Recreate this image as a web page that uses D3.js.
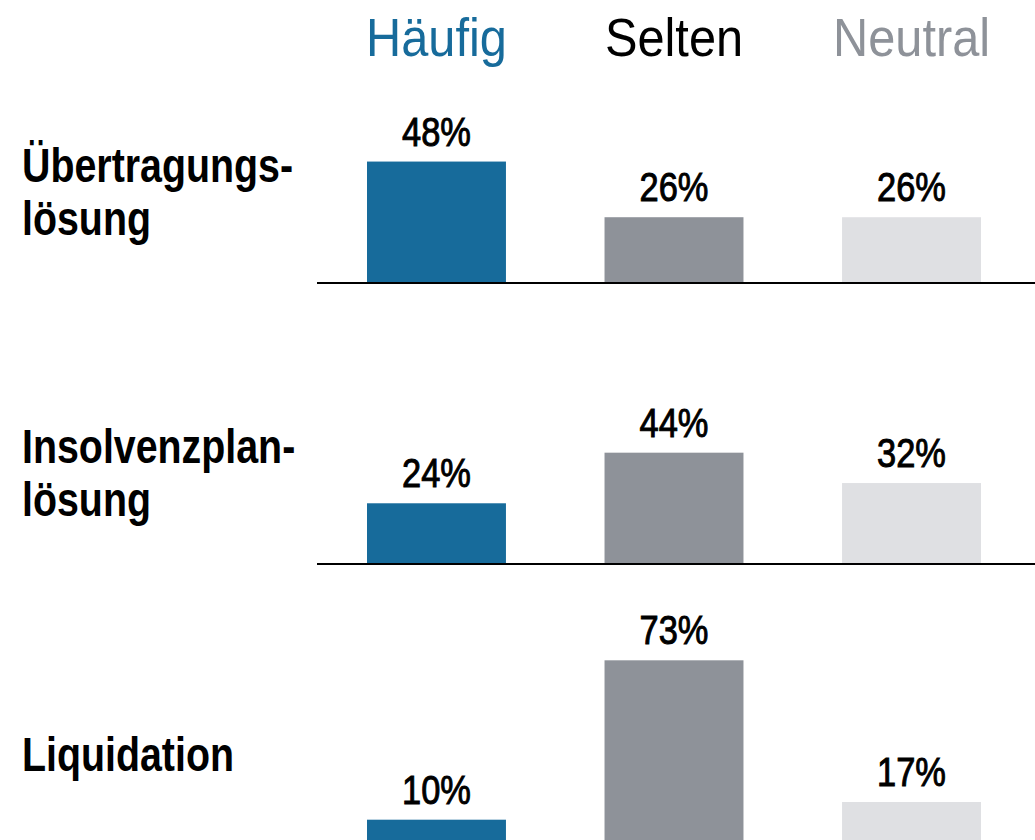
<!DOCTYPE html>
<html>
<head>
<meta charset="utf-8">
<script src="https://d3js.org/d3.v7.min.js"></script>
<style>
  body { margin: 0; background: #fff; }
  text { font-family: "Liberation Sans Narrow", "Arial Narrow", "Liberation Sans", sans-serif; }
  .head { font-size: 53px; }
  .cat { font-size: 48px; font-weight: bold; }
  .val { font-size: 41px; stroke: #000; stroke-width: 1px; }
</style>
</head>
<body>
<script>
// data
var categories = ["Übertragungslösung", "Insolvenzplanlösung", "Liquidation"];
var catLines = [["Übertragungs-", "lösung"], ["Insolvenzplan-", "lösung"], ["Liquidation"]];
var series = ["Häufig", "Selten", "Neutral"];
var haeufig = [48, 24, 10];
var selten = [26, 44, 73];
var neutral = [26, 32, 17];

var values = [haeufig, selten, neutral];
var barColors = ["#176b9b", "#8e9299", "#dfe0e3"];
var headColors = ["#176b9b", "#000000", "#8e9299"];

var width = 1035, height = 840;

// no condensed font installed, so squeeze the text horizontally
function squeeze(sx) {
  return function(x, y) { return "translate(" + x + "," + y + ") scale(" + sx + ",1)"; };
}
var headT = squeeze(0.92), catT = squeeze(0.82), valT = squeeze(0.84);

var svg = d3.select("body").append("svg")
  .attr("width", width)
  .attr("height", height);

// x positions of the three bars
var x = d3.scaleBand()
  .domain(series)
  .range([317, 1031])
  .paddingInner(0.415)
  .paddingOuter(0.2105);

// baselines of each group
var groupY = d3.scalePoint()
  .domain(categories)
  .range([283, 845]);

var y = d3.scaleLinear().domain([0, 100]).range([0, 253]);

// header
svg.selectAll(".head")
  .data(series)
  .enter().append("text")
  .attr("class", "head")
  .attr("transform", d => headT(x(d) + x.bandwidth() / 2, 56))
  .attr("text-anchor", "middle")
  .style("fill", (d, i) => headColors[i])
  .text(d => d);

var group = svg.selectAll(".group")
  .data(categories)
  .enter().append("g")
  .attr("class", "group")
  .attr("transform", d => "translate(0," + groupY(d) + ")");

group.each(function(cat, ci) {
  var g = d3.select(this);
  var rows = series.map((s, si) => ({ s: s, v: values[si][ci], c: barColors[si] }));

  g.selectAll("rect")
    .data(rows)
    .enter().append("rect")
    .attr("x", d => x(d.s))
    .attr("y", d => -y(d.v))
    .attr("width", x.bandwidth())
    .attr("height", d => y(d.v))
    .style("fill", d => d.c);

  g.selectAll(".val")
    .data(rows)
    .enter().append("text")
    .attr("class", "val")
    .attr("transform", d => valT(x(d.s) + x.bandwidth() / 2, -y(d.v) - 16))
    .attr("text-anchor", "middle")
    .text(d => d.v + "%");

  g.append("line")
    .attr("x1", 317)
    .attr("x2", 1035)
    .attr("y1", 0)
    .attr("y2", 0)
    .style("stroke", "#000")
    .style("stroke-width", 2);

  var lines = catLines[ci];
  var first = lines.length > 1 ? -101 : -74;
  g.selectAll(".cat")
    .data(lines)
    .enter().append("text")
    .attr("class", "cat")
    .attr("transform", (d, i) => catT(22, first + i * 53))
    .text(d => d);
});
</script>
</body>
</html>
